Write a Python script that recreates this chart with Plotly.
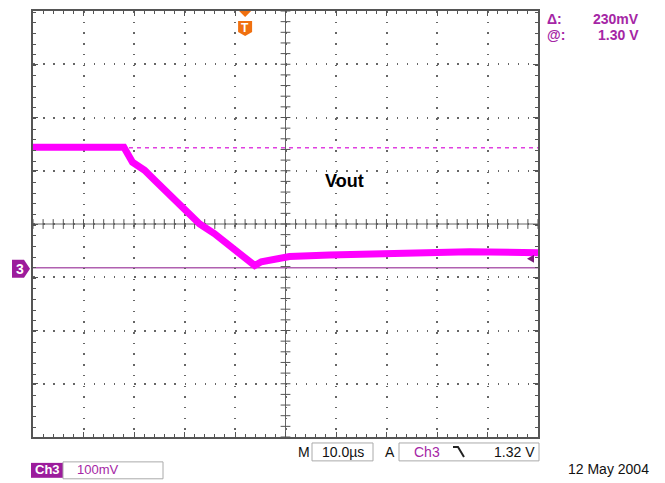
import numpy as np
import plotly.graph_objects as go

# ---- data (time in µs, voltage in mV relative to Ch3 marker) ----
time_us = [-50, -40, -32, -30.3, -27.9, -25.9, -22.0, -17.0, -14.1, -10.5, -7.5, -6.1,
           -4.8, -2.2, 0.8, 8.7, 22.6, 36.4, 50]
vout_mv = [226, 226, 226, 198, 183, 164, 127, 82, 64, 36, 13, 4,
           11, 17, 21, 24, 28, 30, 28]
cursor_mv = 225
ground_mv = 0
trigger_us = -8

X0, X1 = -50, 50
Y0, Y1 = -318, 482

OFF = 8  # browser body margin
W, H = 665 - OFF, 483 - OFF
L, T = 33 - OFF, 9 - OFF
R = 665 - 538
B = 483 - 437
PW, PH = W - L - R, H - T - B

def px(x):
    return (x - OFF - L) / PW

def py(y):
    return (H - B - (y - OFF)) / PH

PURPLE = "#A526A5"
MAG = "#FF00FF"
FONT = "Liberation Sans, Arial, sans-serif"

fig = go.Figure()

# centre cross tick marks
xc = np.arange(X0, X1 + 0.01, 2)
yc_center = (Y0 + Y1) / 2
fig.add_trace(go.Scatter(x=xc, y=[yc_center] * len(xc), mode="markers",
                         marker=dict(symbol="line-ns", size=7, line=dict(color="#555", width=1)),
                         hoverinfo="skip", showlegend=False))
yc = np.arange(Y0, Y1 + 0.01, 20)
fig.add_trace(go.Scatter(x=[0] * len(yc), y=yc, mode="markers",
                         marker=dict(symbol="line-ew", size=7, line=dict(color="#555", width=1)),
                         hoverinfo="skip", showlegend=False))

# waveform
fig.add_trace(go.Scatter(x=time_us, y=vout_mv, mode="lines",
                         line=dict(color=MAG, width=7), hoverinfo="skip", showlegend=False))

shapes = []
shapes.append(dict(type="line", xref="x", yref="y", x0=X0, x1=X1, y0=yc_center, y1=yc_center,
                   line=dict(color="#666", width=1), layer="below"))
shapes.append(dict(type="line", xref="x", yref="y", x0=0, x1=0, y0=Y0, y1=Y1,
                   line=dict(color="#666", width=1), layer="below"))
shapes.append(dict(type="line", xref="x", yref="y", x0=X0, x1=X1, y0=cursor_mv, y1=cursor_mv,
                   line=dict(color="#E040E0", width=1.5, dash="4px,4px"), layer="below"))
shapes.append(dict(type="line", xref="x", yref="y", x0=X0, x1=X1, y0=ground_mv, y1=ground_mv,
                   line=dict(color="#B060B0", width=1.5), layer="below"))

# Ch3 ground marker tag
shapes.append(dict(type="path", xref="paper", yref="paper",
                   path=f"M {px(12)},{py(259)} L {px(24)},{py(259)} L {px(30)},{py(268)} "
                        f"L {px(24)},{py(277)} L {px(12)},{py(277)} Z",
                   fillcolor="#9C1C9C", line=dict(width=0)))
# trigger marker
tp = (trigger_us - X0) / (X1 - X0)
tpx = 33 + tp * 505
shapes.append(dict(type="path", xref="paper", yref="paper",
                   path=f"M {px(tpx-6)},{py(9)} L {px(tpx+6)},{py(9)} L {px(tpx)},{py(15)} Z",
                   fillcolor="#F07010", line=dict(width=0)))
shapes.append(dict(type="path", xref="paper", yref="paper",
                   path=f"M {px(tpx-7)},{py(19)} L {px(tpx+7)},{py(19)} L {px(tpx+7)},{py(30)} "
                        f"L {px(tpx)},{py(34)} L {px(tpx-7)},{py(30)} Z",
                   fillcolor="#F07010", line=dict(width=0)))
# trace end arrow
shapes.append(dict(type="path", xref="paper", yref="paper",
                   path=f"M {px(527)},{py(258)} L {px(534)},{py(254)} L {px(534)},{py(262)} Z",
                   fillcolor="#7A1A7A", line=dict(width=0)))

# bottom readout boxes
shapes.append(dict(type="rect", xref="paper", yref="paper",
                   x0=px(312), x1=px(373), y0=py(443), y1=py(461),
                   line=dict(color="#AAA", width=1)))
shapes.append(dict(type="rect", xref="paper", yref="paper",
                   x0=px(399), x1=px(539), y0=py(443), y1=py(461),
                   line=dict(color="#AAA", width=1)))
shapes.append(dict(type="rect", xref="paper", yref="paper",
                   x0=px(31), x1=px(63), y0=py(463), y1=py(478),
                   fillcolor="#9C1C9C", line=dict(width=0)))
shapes.append(dict(type="rect", xref="paper", yref="paper",
                   x0=px(63), x1=px(163), y0=py(462), y1=py(479),
                   line=dict(color="#AAA", width=1)))
shapes.append(dict(type="path", xref="paper", yref="paper",
                   path=f"M {px(453)},{py(447)} L {px(458)},{py(447)} L {px(464)},{py(457)}",
                   line=dict(color="#222", width=2)))

ann = []
def text(x, y, s, color="#111", size=14, xanchor="center", bold=False):
    ann.append(dict(xref="paper", yref="paper", x=px(x), y=py(y), text=(f"<b>{s}</b>" if bold else s),
                    showarrow=False, xanchor=xanchor, yanchor="middle",
                    font=dict(family=FONT, size=size, color=color)))

text(20, 268, "3", color="white", size=14, bold=True)
text(tpx, 26, "T", color="white", size=12, bold=True)
text(545, 17, "Δ:", color=PURPLE, size=14, xanchor="left", bold=True)
text(641, 17, "230mV", color=PURPLE, size=14, xanchor="right", bold=True)
text(545, 33, "@:", color=PURPLE, size=14, xanchor="left", bold=True)
text(641, 33, "1.30 V", color=PURPLE, size=14, xanchor="right", bold=True)
text(344, 180, "Vout", color="#000", size=18, bold=True)
text(304, 452, "M", size=14)
text(342.5, 452, "10.0µs", size=14)
text(390, 452, "A", size=14)
text(427, 452, "Ch3", color=PURPLE, size=14)
text(537, 452, "1.32 V", size=14, xanchor="right")
text(47, 470, "Ch3", color="white", size=13, bold=True)
text(98, 470, "100mV", color=PURPLE, size=13)
text(651, 469, "12 May 2004", color="#111", size=14, xanchor="right")

axis_common = dict(showline=True, linecolor="#555", linewidth=2, mirror="allticks",
                   ticks="inside", ticklen=5, tickcolor="#555", tickwidth=1,
                   showticklabels=False, zeroline=False, fixedrange=True)

fig.update_layout(
    width=W, height=H, margin=dict(l=L, r=R, t=T, b=B),
    paper_bgcolor="white", plot_bgcolor="white",
    xaxis=dict(range=[X0, X1], tick0=0, dtick=10, showgrid=True, gridcolor="#666",
               gridwidth=1.5, griddash="1.5px,9.2px",
               minor=dict(dtick=2, ticks="inside", ticklen=3, tickcolor="#555", showgrid=False),
               **axis_common),
    yaxis=dict(range=[Y0, Y1], tick0=yc_center, dtick=100, showgrid=True, gridcolor="#666",
               gridwidth=1.5, griddash="1.5px,8.6px",
               minor=dict(dtick=20, ticks="inside", ticklen=3, tickcolor="#555", showgrid=False),
               **axis_common),
    shapes=shapes, annotations=ann, showlegend=False,
)

fig.write_html("out.html")
